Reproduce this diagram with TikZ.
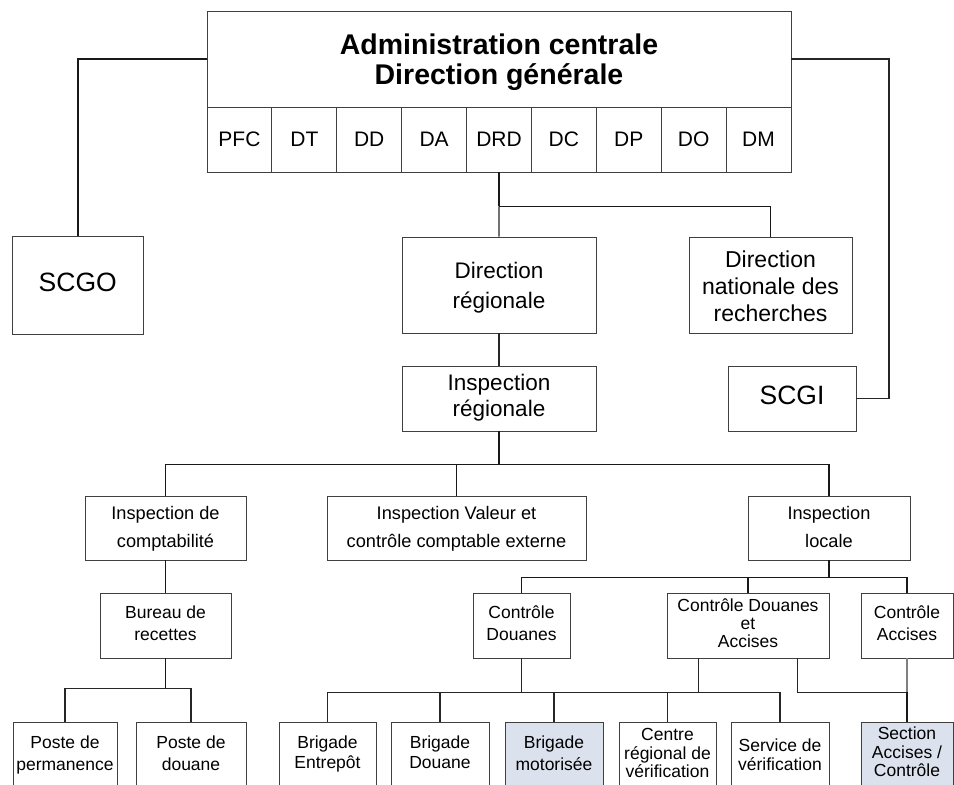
\documentclass[tikz,border=0pt]{standalone}
\usepackage{fontspec}
\setmainfont{Liberation Sans}
\usetikzlibrary{calc}
\definecolor{boxblue}{HTML}{DCE1EE}
\tikzset{
  box/.style={draw=black!75, line width=0.9pt, inner sep=0pt, fill=white},
  fillbox/.style={box, fill=boxblue},
  txt/.style={inner sep=0pt, align=center},
  conn/.style={line width=1.1pt, draw=black!85},
  main/.style={line width=1.6pt, draw=black!90},
  ftitle/.style={font=\fontsize{28.5}{29}\selectfont\bfseries},
  fcell/.style={font=\fontsize{21}{25}\selectfont},
  fbig/.style={font=\fontsize{26.5}{30}\selectfont},
  fmid/.style={font=\fontsize{22.5}{30}\selectfont},
  fmidr/.style={font=\fontsize{22.5}{26}\selectfont},
  fmidt/.style={font=\fontsize{23}{27}\selectfont},
  fsmall/.style={font=\fontsize{17.5}{22}\selectfont},
  fsmallb/.style={font=\fontsize{17.5}{20}\selectfont},
  fsmallw/.style={font=\fontsize{18.2}{28}\selectfont},
  fsmallt/.style={font=\fontsize{17.5}{18}\selectfont},
}
% \mybox[text offset]{name}{x1}{y1}{x2}{y2}{box style}{font style}{text}
\newcommand\mybox[9][0]{%
  \node[#7, minimum width={(#5-#3)*1pt}, minimum height={(#6-#4)*1pt}] (#2) at ({(#3+#5)/2},{(#4+#6)/2}) {};
  \node[txt, #8] (#2-t) at ([yshift=-#1pt]#2.center) {\strut #9\strut};}
\begin{document}
\begin{tikzpicture}[x=1pt,y=-1pt]
\useasboundingbox (0,0) rectangle (954,785);
\clip (0,0) rectangle (954,785);
% top block
\mybox[4.5]{adm}{207}{11}{791}{107}{box}{ftitle}{Administration centrale\\Direction générale}
\foreach \n [count=\i from 0] in {PFC,DT,DD,DA,DRD,DC,DP,DO,DM}{
  \pgfmathsetmacro\xa{207+\i*64.889}
  \pgfmathsetmacro\xb{207+(\i+1)*64.889}
  \mybox[1.5]{c\n}{\xa}{107}{\xb}{172}{box}{fcell}{\n}
}
% second level
\mybox{scgo}{12.5}{236}{143}{334}{box}{fbig}{SCGO}
\mybox[2]{dr}{402}{237}{596}{333}{box}{fmid}{Direction\\régionale}
\mybox[4]{dnr}{689}{237}{852}{333}{box}{fmidt}{Direction\\nationale des\\recherches}
\mybox{ir}{402}{366}{596}{431}{box}{fmidr}{Inspection\\régionale}
\mybox{scgi}{728}{366}{856}{431}{box}{fbig}{SCGI}
% inspections
\mybox{ic}{85}{496}{246}{560}{box}{fsmallw}{Inspection de\\comptabilité}
\mybox{iv}{327}{496}{586}{560}{box}{fsmallw}{Inspection Valeur et\\contrôle comptable externe}
\mybox{il}{748}{496}{910}{560}{box}{fsmallw}{Inspection\\locale}
\mybox{br}{100}{593}{231}{658}{box}{fsmall}{Bureau de\\recettes}
\mybox{cd}{473}{593}{570}{658}{box}{fsmall}{Contrôle\\Douanes}
\mybox{cda}{667}{593}{829}{658}{box}{fsmallt}{Contrôle Douanes\\et\\Accises}
\mybox{ca}{861}{593}{953}{658}{box}{fsmall}{Contrôle\\Accises}
% bottom row
\mybox{pp}{13}{722}{117}{789}{box}{fsmall}{Poste de\\permanence}
\mybox{pd}{136}{722}{246}{789}{box}{fsmall}{Poste de\\douane}
\mybox[-1]{be}{279}{722}{376}{789}{box}{fsmallb}{Brigade\\Entrepôt}
\mybox[-1]{bd}{391}{722}{489}{789}{box}{fsmallb}{Brigade\\Douane}
\mybox{bm}{505}{722}{603}{789}{fillbox}{fsmall}{Brigade\\motorisée}
\mybox{cr}{619}{722}{716}{789}{box}{fsmallt}{Centre\\régional de\\vérification}
\mybox[1.5]{sv}{731}{722}{829}{789}{box}{fsmallt}{Service de\\vérification}
\mybox[-1.5]{sa}{861}{722}{953}{789}{fillbox}{fsmallt}{Section\\Accises /\\Contrôle}
% connectors
\draw[main] (adm.west) -| (scgo.north);
\coordinate (rt) at (889,300);
\draw[conn] (adm.east) -| (rt) |- (scgi.east);
\coordinate (j1) at ([yshift=-34pt]cDRD.south);
\draw[main] (cDRD.south) -- (j1);
\draw[conn] (j1) -- (dr.north);
\draw[main] (j1) -| (dnr.north);
\draw[conn] (dr.south) -- (ir.north);
\coordinate (j2) at ([yshift=-33pt]ir.south);
\draw[main] (ir.south) -- (j2);
\draw[main] (ic.north) |- (j2) -| (il.north);
\draw[main] (iv.north) -- (iv.north |- j2);
\draw[main] (ic.south) -- (br.north);
\coordinate (j3) at ([yshift=-30pt]br.south);
\draw[main] (br.south) -- (j3);
\draw[conn] (pp.north) |- (j3) -| (pd.north);
\coordinate (j4) at ([yshift=-17pt]il.south);
\draw[main] (il.south) -- (j4);
\draw[main] (cd.north) |- (j4) -| (ca.north);
\draw[main] (cda.north) -- (cda.north |- j4);
\coordinate (j5) at ([yshift=-34pt]cd.south);
\draw[conn] (cd.south) -- (j5);
\draw[conn] (be.north) |- (j5) -| (sv.north);
\foreach \n in {bd,bm,cr}{\draw[conn] (\n.north) -- (\n.north |- j5);}
\coordinate (k1) at ([xshift=32pt]cda.south west);
\coordinate (k2) at ([xshift=-32pt]cda.south east);
\draw[conn] (k1) -- (k1 |- j5);
\draw[conn] (k2) |- (j5 -| sa.north);
\draw[conn, draw=black!50] (ca.south) -- (j5 -| ca.south);
\draw[main] (j5 -| sa.north) -- (sa.north);
\end{tikzpicture}
\end{document}
